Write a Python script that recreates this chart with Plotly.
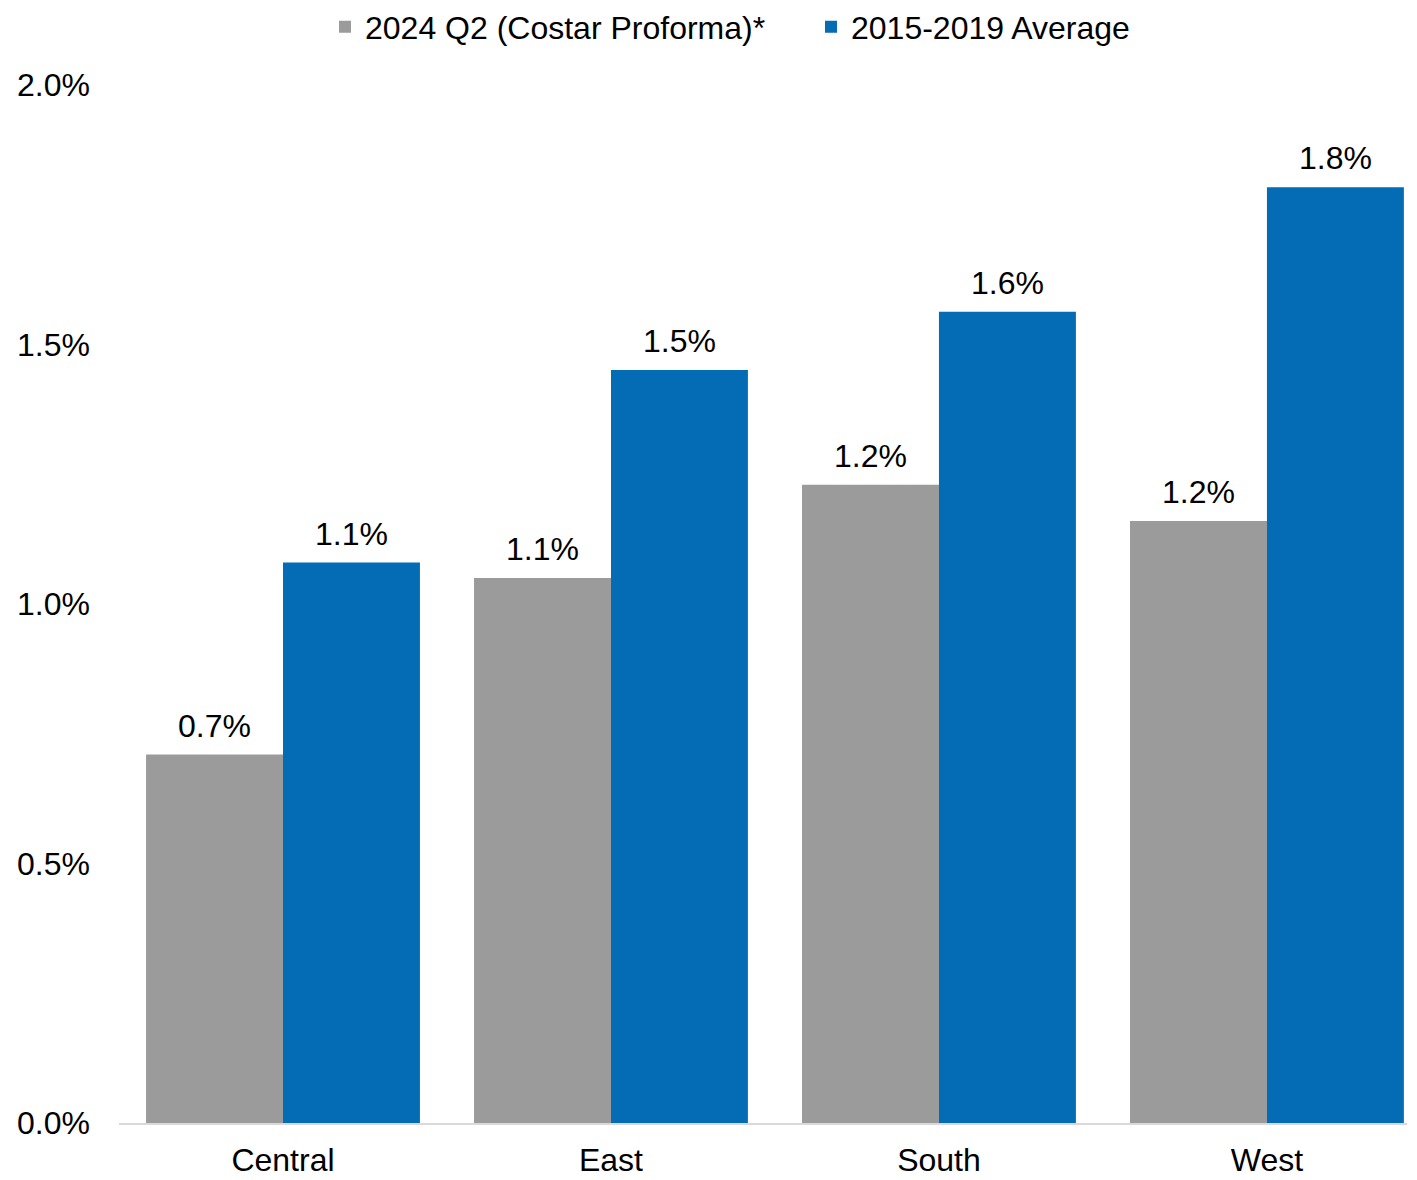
import plotly.graph_objects as go

categories = ["Central", "East", "South", "West"]
q2_2024 = [0.71, 1.05, 1.23, 1.16]
avg_2015_2019 = [1.08, 1.451, 1.563, 1.803]
series_names = ["2024 Q2 (Costar Proforma)*", "2015-2019 Average"]
tick_vals = [0.0, 0.5, 1.0, 1.5, 2.0]

FONT = "Liberation Sans, Arial, sans-serif"
GRAY = "#9B9B9B"
BLUE = "#046BB5"
FS = 32

fig = go.Figure()
for name, vals, color, grp in [
    (series_names[0], q2_2024, GRAY, "a"),
    (series_names[1], avg_2015_2019, BLUE, "b"),
]:
    fig.add_trace(go.Bar(
        x=categories, y=vals, name=name, offsetgroup=grp,
        marker=dict(color=color, line=dict(width=0)),
        hoverinfo="x+y",
    ))
for vals, grp in [(q2_2024, "a"), (avg_2015_2019, "b")]:
    fig.add_trace(go.Scatter(
        x=categories, y=vals, offsetgroup=grp, mode="markers+text",
        marker=dict(size=14, opacity=0),
        texttemplate="%{y:.1f}%", textposition="top center",
        textfont=dict(family=FONT, size=FS, color="black"),
        showlegend=False, hoverinfo="skip", cliponaxis=False,
    ))

W, H = 1409, 1172
fig.update_layout(
    width=W, height=H,
    margin=dict(l=111, r=10, t=77, b=57),
    paper_bgcolor="white", plot_bgcolor="white",
    barmode="group", bargap=0.165, bargroupgap=0,
    scattermode="group", scattergap=0.165,
    font=dict(family=FONT, size=FS, color="black"),
    showlegend=True,
    legend=dict(
        orientation="h",
        xref="container", x=317 / W, xanchor="left",
        yref="container", y=1 - 19 / H, yanchor="middle",
        font=dict(family=FONT, size=FS, color="black"),
        traceorder="normal", itemwidth=30, entrywidth=441,
    ),
)
fig.update_xaxes(
    range=[-0.5, 3.427], showgrid=False, automargin=False,
    showline=True, linecolor="#D9D9D9", linewidth=2,
    ticks="", ticklabelstandoff=8,
    tickfont=dict(family=FONT, size=FS, color="black"),
)
fig.update_yaxes(
    range=[0, 2.0], tickvals=tick_vals, ticktext=[f"{v:.1f}%" for v in tick_vals],
    showgrid=False, zeroline=False, showline=False, automargin=False,
    ticks="", ticklabelstandoff=28,
    tickfont=dict(family=FONT, size=FS, color="black"),
)

fig.write_html("out.html")
